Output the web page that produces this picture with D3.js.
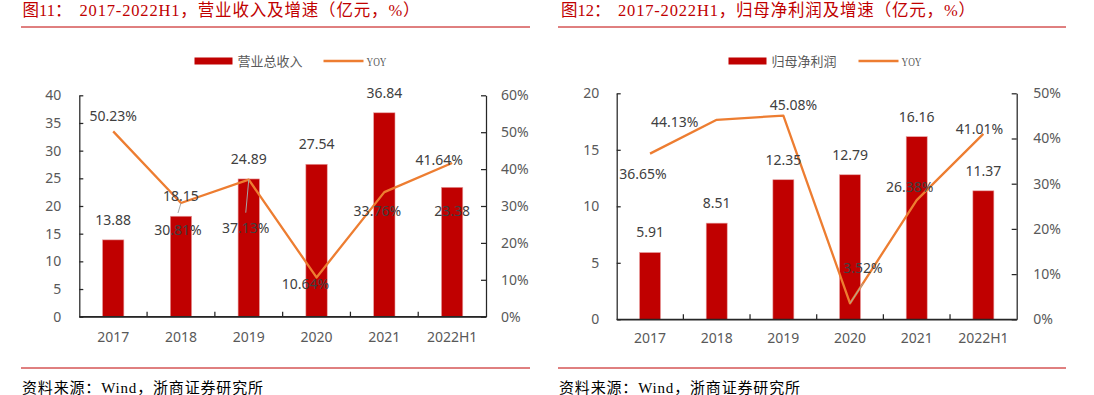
<!DOCTYPE html>
<html>
<head>
<meta charset="utf-8">
<script src="https://cdn.jsdelivr.net/npm/d3@7"></script>
<style>
  body { margin: 0; background: #fff; }
  svg { display: block; }
  .tick text { font-family: "Noto Sans", "Open Sans", sans-serif; font-size: 14px; fill: #595959; }
  .axis path, .axis line { stroke: #262626; stroke-width: 1.25; }
  .val { font-family: "Noto Sans", "Open Sans", sans-serif; font-size: 14px; fill: #404040; }
  .title { font-family: "Liberation Serif", "Noto Sans CJK SC", serif; font-size: 16.5px; fill: #C00000; }
  .leg { font-family: "Liberation Serif", "Noto Sans CJK SC", serif; font-size: 13px; fill: #595959; }
  .src { font-family: "Liberation Serif", "Noto Sans CJK SC", serif; font-size: 15px; fill: #000; }
</style>
</head>
<body>
<svg id="chart" width="1094" height="395"></svg>
<script>
// ── data ─────────────────────────────────────────────────────────────
const CATS = ["2017", "2018", "2019", "2020", "2021", "2022H1"];

const REVENUE     = [13.88, 18.15, 24.89, 27.54, 36.84, 23.38];   // 亿元
const REVENUE_YOY = [50.23, 30.81, 37.13, 10.64, 33.76, 41.64];   // %
const PROFIT      = [5.91, 8.51, 12.35, 12.79, 16.16, 11.37];     // 亿元
const PROFIT_YOY  = [36.65, 44.13, 45.08, 3.52, 26.38, 41.01];    // %

const REV_TICKS_L = [0, 5, 10, 15, 20, 25, 30, 35, 40];
const REV_TICKS_R = [0, 10, 20, 30, 40, 50, 60];
const PRO_TICKS_L = [0, 5, 10, 15, 20];
const PRO_TICKS_R = [0, 10, 20, 30, 40, 50];

const RED = "#C00000", ORANGE = "#ED7D31", LEADER = "#A6A6A6";

// label placement (px offsets from the mark), as laid out in the source chart
const REV_BAR_LBL = [[0, -20], [0, -20], [0, -20], [0, -20], [0, -20], [0, 24]];
const REV_YOY_LBL = [[0, -15], [-3, 27, -17], [-3, 48, -15], [-11, 7], [-7, 19], [-13, -3]];
const PRO_BAR_LBL = [[0, -20], [0, -20], [0, -20], [0, -20], [0, -20], [0, -20]];
const PRO_YOY_LBL = [[-7, 20], [-42, 2], [10, -10], [13, -35, 15], [-7, -13], [-4, -5]];

const svg = d3.select("#chart");

function drawPanel(o) {
  const g = svg.append("g");

  // title + rule
  const t = g.append("text").attr("class", "title").attr("y", 16);
  t.append("tspan").attr("x", o.titleX).text(o.titleNo);
  t.append("tspan").attr("x", o.titleX + 57)
    .attr("textLength", o.titleLen).attr("lengthAdjust", "spacing").text(o.title);
  g.append("line").attr("x1", o.ruleX[0]).attr("x2", o.ruleX[1])
    .attr("y1", 27).attr("y2", 27).attr("stroke", RED).attr("stroke-width", 1);

  // legend
  const lg = g.append("g").attr("transform", `translate(${o.legX},61)`);
  lg.append("rect").attr("x", 0).attr("y", -3.5).attr("width", 38).attr("height", 7).attr("fill", RED);
  lg.append("text").attr("class", "leg").attr("x", 43).attr("dy", "0.35em").text(o.barName);
  lg.append("line").attr("x1", o.legLineX).attr("x2", o.legLineX + 40)
    .attr("stroke", ORANGE).attr("stroke-width", 2.3);
  lg.append("text").attr("class", "leg").attr("x", o.legLineX + 43).attr("dy", "0.35em")
    .attr("textLength", 20).attr("lengthAdjust", "spacingAndGlyphs").text("YOY");

  // scales
  const x = d3.scaleBand().domain(CATS).range(o.xr);
  const yL = d3.scaleLinear().domain([0, o.maxL]).range(o.yr);
  const yR = d3.scaleLinear().domain([0, o.maxR]).range(o.yr);
  const bw = x.bandwidth() * 0.315;
  const cx = d => x(d) + x.bandwidth() / 2;

  // axes
  g.append("g").attr("class", "axis").attr("transform", `translate(${o.xr[0]},0)`)
    .call(d3.axisLeft(yL).tickValues(o.ticksL).tickSizeInner(-4).tickSizeOuter(0).tickPadding(o.padL));
  g.append("g").attr("class", "axis").attr("transform", `translate(${o.xr[1]},0)`)
    .call(d3.axisRight(yR).tickValues(o.ticksR).tickFormat(d => d + "%")
      .tickSizeInner(-5).tickSizeOuter(0).tickPadding(o.padR));
  const xa = g.append("g").attr("class", "axis").attr("transform", `translate(0,${o.yr[0]})`)
    .call(d3.axisBottom(x).tickSize(0).tickPadding(o.padX));
  xa.selectAll(".tick line").remove();
  xa.selectAll("line.sep")
    .data(CATS.slice(1))
    .join("line").attr("class", "sep")
    .attr("x1", d => x(d)).attr("x2", d => x(d)).attr("y1", 0).attr("y2", -5);

  // bars
  g.append("g").selectAll("rect")
    .data(o.bars)
    .join("rect")
    .attr("x", (d, i) => cx(CATS[i]) - bw / 2)
    .attr("y", d => yL(d))
    .attr("width", bw)
    .attr("height", d => yL(0) - yL(d))
    .attr("fill", RED)
    .attr("stroke", "#E8A0A0").attr("stroke-width", 0.6);

  // redraw x baseline over bars
  g.append("line").attr("x1", o.xr[0]).attr("x2", o.xr[1])
    .attr("y1", o.yr[0]).attr("y2", o.yr[0]).attr("stroke", "#262626").attr("stroke-width", 1.25);

  // line
  const pts = o.yoy.map((v, i) => [cx(CATS[i]), yR(v)]);
  g.append("path")
    .attr("d", d3.line()(pts))
    .attr("fill", "none").attr("stroke", ORANGE).attr("stroke-width", 2.3)
    .attr("stroke-linejoin", "round");

  // bar labels
  g.append("g").selectAll("text")
    .data(o.bars)
    .join("text").attr("class", "val")
    .attr("x", (d, i) => cx(CATS[i]) + o.barLbl[i][0])
    .attr("y", (d, i) => yL(d) + o.barLbl[i][1])
    .attr("dy", "0.35em").attr("text-anchor", "middle")
    .text(d => d.toFixed(2));

  // yoy labels + leader lines
  o.yoy.forEach((v, i) => {
    const [dx, dy, lead] = o.yoyLbl[i];
    const px = pts[i][0], py = pts[i][1];
    if (lead !== undefined) {
      g.append("line").attr("x1", px).attr("y1", py)
        .attr("x2", px + dx).attr("y2", py + dy + lead)
        .attr("stroke", LEADER).attr("stroke-width", 1);
    }
    g.append("text").attr("class", "val")
      .attr("x", px + dx).attr("y", py + dy)
      .attr("dy", "0.35em").attr("text-anchor", "middle")
      .text(v.toFixed(2) + "%");
  });

  // source
  g.append("line").attr("x1", o.ruleX[0]).attr("x2", o.ruleX[1])
    .attr("y1", 368).attr("y2", 368).attr("stroke", RED).attr("stroke-width", 1);
  g.append("text").attr("class", "src").attr("x", o.ruleX[0] + 1).attr("y", 393)
    .attr("textLength", 241).attr("lengthAdjust", "spacing")
    .text("资料来源：Wind，浙商证券研究所");
}

drawPanel({
  titleX: 22.5, titleNo: "图11：", title: "2017-2022H1，营业收入及增速（亿元，%）", titleLen: 340,
  ruleX: [21, 530],
  legX: 194.5, legLineX: 129, barName: "营业总收入",
  xr: [79.3, 486], yr: [316.7, 95.3],
  maxL: 40, maxR: 60, ticksL: REV_TICKS_L, ticksR: REV_TICKS_R,
  padL: 18, padR: 15, padX: 15,
  bars: REVENUE, yoy: REVENUE_YOY, barLbl: REV_BAR_LBL, yoyLbl: REV_YOY_LBL
});

drawPanel({
  titleX: 561, titleNo: "图12：", title: "2017-2022H1，归母净利润及增速（亿元，%）", titleLen: 357,
  ruleX: [558, 1066],
  legX: 728.5, legLineX: 130, barName: "归母净利润",
  xr: [616.7, 1016.7], yr: [319.3, 93.3],
  maxL: 20, maxR: 50, ticksL: PRO_TICKS_L, ticksR: PRO_TICKS_R,
  padL: 17.5, padR: 16.5, padX: 14,
  bars: PROFIT, yoy: PROFIT_YOY, barLbl: PRO_BAR_LBL, yoyLbl: PRO_YOY_LBL
});
</script>
</body>
</html>
